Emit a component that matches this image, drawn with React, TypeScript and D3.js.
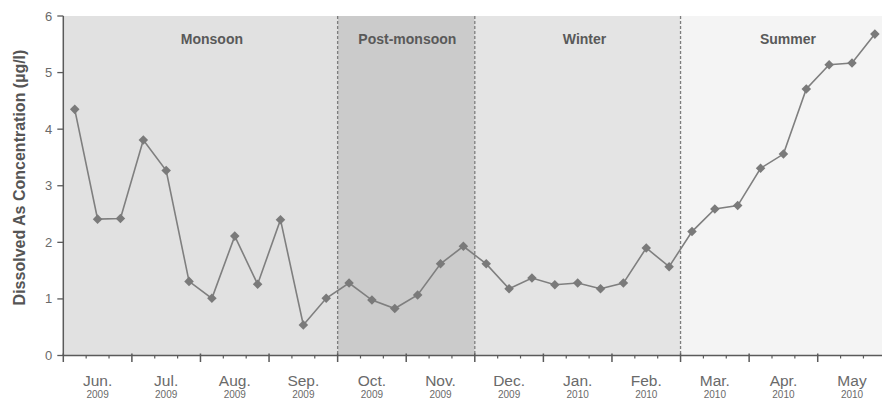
import React from "react";
import * as d3 from "d3";

// Sampling months (three samples per month), Jun 2009 – May 2010
const months = ["Jun.", "Jul.", "Aug.", "Sep.", "Oct.", "Nov.", "Dec.", "Jan.", "Feb.", "Mar.", "Apr.", "May"];
const years = ["2009", "2009", "2009", "2009", "2009", "2009", "2009", "2010", "2010", "2010", "2010", "2010"];
const samplesPerMonth = 3;

// Dissolved arsenic concentration (µg/l) for each sample
const concentration = [
  4.35, 2.41, 2.42, 3.81, 3.27, 1.31, 1.01, 2.11, 1.26, 2.4, 0.54, 1.01,
  1.28, 0.98, 0.83, 1.07, 1.62, 1.93, 1.62, 1.18, 1.37, 1.25, 1.28, 1.18,
  1.28, 1.9, 1.57, 2.19, 2.59, 2.65, 3.31, 3.56, 4.71, 5.14, 5.17, 5.68,
];

// Seasons: name and the sample index each one starts at
const seasonNames = ["Monsoon", "Post-monsoon", "Winter", "Summer"];
const seasonStarts = [0, 12, 18, 27];
const yTicks = [0, 1, 2, 3, 4, 5, 6];

const seasonFills = ["#e1e1e1", "#cbcbcb", "#e4e4e4", "#f4f4f4"];
// label anchor, in sample units from the left edge of the axis
const seasonLabelAt = [6.5, 15.05, 22.8, 31.7];

const W = 882;
const H = 399;
const left = 63.3;
const right = 886.3;
const top = 16;
const bottom = 355.5;

export default function App() {
  const n = concentration.length;
  const idx = d3.range(n).map(String);
  const x = d3.scaleBand<string>().domain(idx).range([left, right]).paddingInner(0).paddingOuter(0);
  const bw = x.bandwidth();
  const cx = (i: number) => (x(String(i)) as number) + bw / 2;
  const edge = (i: number) => left + i * bw;
  const y = d3.scaleLinear().domain([0, 6]).range([bottom, top]);

  const line = d3
    .line<number>()
    .x((_, i) => cx(i))
    .y((d) => y(d));

  const diamond = d3.symbol().type(d3.symbolDiamond2).size(58)() as string;

  const seasonEnds = seasonStarts.slice(1).concat([n]);
  const textColor = "#6a6a6a";
  const font = "Liberation Sans, Arial, sans-serif";

  return (
    <svg
      width={W}
      height={H}
      style={{ position: "absolute", left: 0, top: 0, overflow: "hidden", background: "#fff" }}
      fontFamily={font}
    >
      {/* season bands */}
      {seasonNames.map((s, k) => (
        <rect
          key={s}
          x={edge(seasonStarts[k])}
          y={top}
          width={edge(seasonEnds[k]) - edge(seasonStarts[k])}
          height={bottom - top}
          fill={seasonFills[k]}
        />
      ))}
      {/* dashed season boundaries */}
      {seasonStarts.slice(1).map((s) => (
        <line
          key={s}
          x1={edge(s)}
          x2={edge(s)}
          y1={top}
          y2={bottom}
          stroke="#7d7d7d"
          strokeWidth={1.3}
          strokeDasharray="3,2"
        />
      ))}
      {seasonNames.map((s, k) => (
        <text
          key={s}
          x={left + seasonLabelAt[k] * bw}
          y={44}
          textAnchor="middle"
          fontSize={14}
          fontWeight="bold"
          fill="#595959"
        >
          {s}
        </text>
      ))}

      {/* series */}
      <path d={line(concentration) as string} fill="none" stroke="#7f7f7f" strokeWidth={1.6} />
      {concentration.map((v, i) => (
        <path key={i} d={diamond} transform={`translate(${cx(i)},${y(v)})`} fill="#7a7a7a" />
      ))}

      {/* y axis */}
      <line x1={left} x2={left} y1={top} y2={bottom} stroke="#5a5a5a" strokeWidth={1.5} />
      {yTicks.map((t) => (
        <g key={t} transform={`translate(0,${y(t)})`}>
          <line x1={left - 6} x2={left} stroke="#5a5a5a" strokeWidth={1.3} />
          <text x={left - 11} dy="0.35em" textAnchor="end" fontSize={13} fill={textColor}>
            {t}
          </text>
        </g>
      ))}
      <text
        transform={`translate(25,${(48 + 307) / 2}) rotate(-90)`}
        textAnchor="middle"
        fontSize={16}
        fontWeight="bold"
        fill="#555"
      >
        Dissolved As Concentration (µg/l)
      </text>

      {/* x axis */}
      <line x1={left} x2={right} y1={bottom} y2={bottom} stroke="#5a5a5a" strokeWidth={1.5} />
      {d3.range(n + 1).map((i) => {
        const major = i % samplesPerMonth === 0;
        return (
          <line
            key={i}
            x1={edge(i)}
            x2={edge(i)}
            y1={major ? bottom - 2 : bottom}
            y2={major ? bottom + 6.5 : bottom + 3}
            stroke="#5a5a5a"
            strokeWidth={major ? 1.5 : 1.2}
          />
        );
      })}
      {months.map((m, k) => {
        const mx = cx(k * samplesPerMonth + 1);
        return (
          <g key={m + k}>
            <text x={mx} y={385.5} textAnchor="middle" fontSize={15.5} fill={textColor}>
              {m}
            </text>
            <text x={mx} y={398} textAnchor="middle" fontSize={10} fill={textColor}>
              {years[k]}
            </text>
          </g>
        );
      })}
    </svg>
  );
}
